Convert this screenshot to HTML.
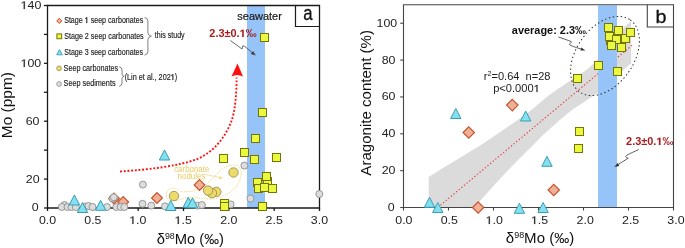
<!DOCTYPE html>
<html><head><meta charset="utf-8"><style>
html,body{margin:0;padding:0;background:#fff;}
body{width:685px;height:248px;overflow:hidden;}
svg{display:block;font-family:"Liberation Sans", sans-serif;will-change:transform;}
</style></head><body>
<svg width="685" height="248" viewBox="0 0 685 248">
<rect width="685" height="248" fill="#fff"/>
<rect x="247" y="6" width="18" height="202" fill="#97c4f8"/>
<path d="M166.6,196.3 C165.5,191 169,188 174,188 C178,188.5 179.5,191 181,191.7 C188,192 195,191 199,189 C203,187 207,184 211,180 C216,175 222,168 228,166 C234,164 239,165 241,170 C242.5,176 239,184 234,189 C229,194 220,198 213,199 C205,199.5 195,197 188,197.5 C183,198 178,201 173.5,201 C170,201 167,199 166.6,196.3 Z" fill="none" stroke="#ecd47c" stroke-width="0.9" stroke-dasharray="1.3,1.1"/>
<g stroke="#1a1a1a" stroke-width="1.3" fill="none">
<path d="M47.5,5.5 H319.5 V208.0 H47.5 Z"/>
<path d="M44.0,208.00 H47.5"/>
<path d="M44.0,179.07 H47.5"/>
<path d="M44.0,150.14 H47.5"/>
<path d="M44.0,121.21 H47.5"/>
<path d="M44.0,92.29 H47.5"/>
<path d="M44.0,63.36 H47.5"/>
<path d="M44.0,34.43 H47.5"/>
<path d="M44.0,5.50 H47.5"/>
<path d="M47.50,208.0 V211.0"/>
<path d="M92.83,208.0 V211.0"/>
<path d="M138.17,208.0 V211.0"/>
<path d="M183.50,208.0 V211.0"/>
<path d="M228.83,208.0 V211.0"/>
<path d="M274.17,208.0 V211.0"/>
<path d="M319.50,208.0 V211.0"/>
</g>
<path d="M114.00,193.10 L119.40,198.50 L114.00,203.90 L108.60,198.50 Z" fill="#efb097" stroke="#c4532b" stroke-width="1.2"/>
<path d="M123.20,196.60 L128.60,202.00 L123.20,207.40 L117.80,202.00 Z" fill="#efb097" stroke="#c4532b" stroke-width="1.2"/>
<path d="M157.00,192.60 L162.40,198.00 L157.00,203.40 L151.60,198.00 Z" fill="#efb097" stroke="#c4532b" stroke-width="1.2"/>
<path d="M199.50,179.60 L204.90,185.00 L199.50,190.40 L194.10,185.00 Z" fill="#efb097" stroke="#c4532b" stroke-width="1.2"/>
<circle cx="64.40" cy="205.00" r="3.5" fill="#dcdddd" stroke="#8e8e8e" stroke-width="0.9"/>
<circle cx="61.80" cy="207.00" r="3.5" fill="#dcdddd" stroke="#8e8e8e" stroke-width="0.9"/>
<circle cx="67.50" cy="207.00" r="3.5" fill="#dcdddd" stroke="#8e8e8e" stroke-width="0.9"/>
<circle cx="71.40" cy="207.00" r="3.5" fill="#dcdddd" stroke="#8e8e8e" stroke-width="0.9"/>
<circle cx="75.80" cy="207.00" r="3.5" fill="#dcdddd" stroke="#8e8e8e" stroke-width="0.9"/>
<circle cx="85.00" cy="206.50" r="3.5" fill="#dcdddd" stroke="#8e8e8e" stroke-width="0.9"/>
<circle cx="88.50" cy="206.00" r="3.5" fill="#dcdddd" stroke="#8e8e8e" stroke-width="0.9"/>
<circle cx="92.50" cy="207.00" r="3.5" fill="#dcdddd" stroke="#8e8e8e" stroke-width="0.9"/>
<circle cx="107.00" cy="207.00" r="3.5" fill="#dcdddd" stroke="#8e8e8e" stroke-width="0.9"/>
<circle cx="112.50" cy="198.50" r="3.5" fill="#dcdddd" stroke="#8e8e8e" stroke-width="0.9"/>
<circle cx="113.80" cy="197.30" r="3.5" fill="#dcdddd" stroke="#8e8e8e" stroke-width="0.9"/>
<circle cx="116.30" cy="207.00" r="3.5" fill="#dcdddd" stroke="#8e8e8e" stroke-width="0.9"/>
<circle cx="120.60" cy="207.00" r="3.5" fill="#dcdddd" stroke="#8e8e8e" stroke-width="0.9"/>
<circle cx="124.40" cy="207.00" r="3.5" fill="#dcdddd" stroke="#8e8e8e" stroke-width="0.9"/>
<circle cx="142.50" cy="203.80" r="3.5" fill="#dcdddd" stroke="#8e8e8e" stroke-width="0.9"/>
<circle cx="151.30" cy="205.60" r="3.5" fill="#dcdddd" stroke="#8e8e8e" stroke-width="0.9"/>
<circle cx="142.90" cy="184.60" r="3.5" fill="#dcdddd" stroke="#8e8e8e" stroke-width="0.9"/>
<circle cx="165.00" cy="206.30" r="3.5" fill="#dcdddd" stroke="#8e8e8e" stroke-width="0.9"/>
<circle cx="197.50" cy="205.60" r="3.5" fill="#dcdddd" stroke="#8e8e8e" stroke-width="0.9"/>
<circle cx="201.90" cy="205.00" r="3.5" fill="#dcdddd" stroke="#8e8e8e" stroke-width="0.9"/>
<circle cx="230.60" cy="204.40" r="3.5" fill="#dcdddd" stroke="#8e8e8e" stroke-width="0.9"/>
<circle cx="244.40" cy="165.60" r="3.5" fill="#dcdddd" stroke="#8e8e8e" stroke-width="0.9"/>
<circle cx="250.50" cy="198.50" r="3.5" fill="#dcdddd" stroke="#8e8e8e" stroke-width="0.9"/>
<circle cx="319.30" cy="194.00" r="3.5" fill="#dcdddd" stroke="#8e8e8e" stroke-width="0.9"/>
<circle cx="174.00" cy="196.00" r="4.7" fill="#ebdb6a" stroke="#9e8f55" stroke-width="0.9"/>
<circle cx="216.30" cy="191.90" r="4.7" fill="#ebdb6a" stroke="#9e8f55" stroke-width="0.9"/>
<circle cx="211.90" cy="193.10" r="4.7" fill="#ebdb6a" stroke="#9e8f55" stroke-width="0.9"/>
<circle cx="208.10" cy="190.60" r="4.7" fill="#ebdb6a" stroke="#9e8f55" stroke-width="0.9"/>
<circle cx="233.50" cy="172.50" r="4.7" fill="#ebdb6a" stroke="#9e8f55" stroke-width="0.9"/>
<path d="M74.40,195.00 L79.60,205.00 L69.20,205.00 Z" fill="#84dfee" stroke="#3a9fb6" stroke-width="1.0"/>
<path d="M82.50,202.50 L87.70,212.50 L77.30,212.50 Z" fill="#84dfee" stroke="#3a9fb6" stroke-width="1.0"/>
<path d="M100.60,200.30 L105.80,210.30 L95.40,210.30 Z" fill="#84dfee" stroke="#3a9fb6" stroke-width="1.0"/>
<path d="M164.50,150.00 L169.70,160.00 L159.30,160.00 Z" fill="#84dfee" stroke="#3a9fb6" stroke-width="1.0"/>
<path d="M170.80,200.50 L176.00,210.50 L165.60,210.50 Z" fill="#84dfee" stroke="#3a9fb6" stroke-width="1.0"/>
<path d="M188.30,197.30 L193.50,207.30 L183.10,207.30 Z" fill="#84dfee" stroke="#3a9fb6" stroke-width="1.0"/>
<path d="M192.50,197.80 L197.70,207.80 L187.30,207.80 Z" fill="#84dfee" stroke="#3a9fb6" stroke-width="1.0"/>
<rect x="260.5" y="33.5" width="8.00" height="8.00" fill="#ebf93e" stroke="#747408" stroke-width="1.0"/>
<rect x="258.5" y="108.5" width="8.00" height="8.00" fill="#ebf93e" stroke="#747408" stroke-width="1.0"/>
<rect x="251.5" y="134.5" width="8.00" height="8.00" fill="#ebf93e" stroke="#747408" stroke-width="1.0"/>
<rect x="240.5" y="148.5" width="8.00" height="8.00" fill="#ebf93e" stroke="#747408" stroke-width="1.0"/>
<rect x="219.5" y="154.5" width="8.00" height="8.00" fill="#ebf93e" stroke="#747408" stroke-width="1.0"/>
<rect x="250.5" y="155.5" width="8.00" height="8.00" fill="#ebf93e" stroke="#747408" stroke-width="1.0"/>
<rect x="272.5" y="153.5" width="8.00" height="8.00" fill="#ebf93e" stroke="#747408" stroke-width="1.0"/>
<rect x="253.5" y="178.5" width="8.00" height="8.00" fill="#ebf93e" stroke="#747408" stroke-width="1.0"/>
<rect x="263.5" y="177.5" width="8.00" height="8.00" fill="#ebf93e" stroke="#747408" stroke-width="1.0"/>
<rect x="262.5" y="172.5" width="8.00" height="8.00" fill="#ebf93e" stroke="#747408" stroke-width="1.0"/>
<rect x="254.5" y="184.5" width="8.00" height="8.00" fill="#ebf93e" stroke="#747408" stroke-width="1.0"/>
<rect x="260.5" y="183.5" width="8.00" height="8.00" fill="#ebf93e" stroke="#747408" stroke-width="1.0"/>
<rect x="268.5" y="184.5" width="8.00" height="8.00" fill="#ebf93e" stroke="#747408" stroke-width="1.0"/>
<rect x="258.5" y="202.5" width="8.00" height="8.00" fill="#ebf93e" stroke="#747408" stroke-width="1.0"/>
<rect x="220.5" y="199.5" width="8.00" height="8.00" fill="#ebf93e" stroke="#747408" stroke-width="1.0"/>
<rect x="220.5" y="202.5" width="8.00" height="8.00" fill="#ebf93e" stroke="#747408" stroke-width="1.0"/>
<path d="M120,171.5 C150,169.5 178,166 196,159.5 C214,152.5 226,136 231.5,121 C235,111 236.6,95 236.6,77.5" fill="none" stroke="#ff1010" stroke-width="1.9" stroke-dasharray="1.9,1.8"/>
<path d="M237.5,63.5 L243,76.5 Q237,73.5 231.5,76.5 Z" fill="#ff1010"/>
<text x="174.16" y="171.9" font-size="8.2" fill="#e9cb5e" textLength="35.16" lengthAdjust="spacingAndGlyphs" xml:space="preserve">carbonate</text>
<text x="177.59" y="178.75" font-size="8.2" fill="#e9cb5e" textLength="27.83" lengthAdjust="spacingAndGlyphs" xml:space="preserve">nodules</text>
<path d="M205.6,174.5 L220,177.5" stroke="#efd989" stroke-width="0.8" fill="none"/>
<path d="M223,178.2 L219.2,179.4 L219.9,175.9 Z" fill="#efd989"/>
<path d="M230.4,40.5 L242,49 L242.8,45.9 L244.6,46.3 L252.5,52.9" fill="none" stroke="#444" stroke-width="0.8"/>
<path d="M255.8,55.6 L250.6,53.9 L253.2,50.9 Z" fill="#444"/>
<path d="M295.5,5.5 V26.5 H319.5" stroke="#1a1a1a" stroke-width="1.2" fill="none"/>
<text x="303.25" y="20.26" font-size="20" fill="#111" stroke="#111" stroke-width="0.3" textLength="9.33" lengthAdjust="spacingAndGlyphs" xml:space="preserve">a</text>
<text x="237.32" y="20.2" font-size="11.5" fill="#1a1a1a" stroke="#1a1a1a" stroke-width="0.2" textLength="44.52" lengthAdjust="spacingAndGlyphs" xml:space="preserve">seawater</text>
<path d="M478 0V1170L140 959V1180L493 1409H759V0Z" fill="#a61d1d" stroke="#a61d1d" stroke-width="0.20" vector-effect="non-scaling-stroke" transform="translate(239.642,37) scale(0.005330,-0.005127)"/>
<text x="209.37" y="36.9" font-size="10.5" font-weight="bold" fill="#a61d1d" textLength="47.26" lengthAdjust="spacingAndGlyphs" xml:space="preserve">2.3±0.&#x2007;‰</text>
<path d="M515 0V1237L197 1010V1180L530 1409H696V0Z" fill="#222" stroke="#222" stroke-width="0.20" vector-effect="non-scaling-stroke" transform="translate(20.610,9) scale(0.006052,-0.005371)"/>
<text x="20.61" y="8.79" font-size="11" fill="#222" textLength="20.68" lengthAdjust="spacingAndGlyphs" xml:space="preserve">&#x2007;40</text>
<path d="M515 0V1237L197 1010V1180L530 1409H696V0Z" fill="#222" stroke="#222" stroke-width="0.20" vector-effect="non-scaling-stroke" transform="translate(20.600,67) scale(0.006052,-0.005371)"/>
<text x="20.6" y="66.93" font-size="11" fill="#222" textLength="20.68" lengthAdjust="spacingAndGlyphs" xml:space="preserve">&#x2007;00</text>
<text x="25.65" y="124.95" font-size="11" fill="#222" textLength="13.8" lengthAdjust="spacingAndGlyphs" xml:space="preserve">60</text>
<text x="25.76" y="182.8" font-size="11" fill="#222" textLength="13.8" lengthAdjust="spacingAndGlyphs" xml:space="preserve">20</text>
<text x="31.73" y="211.16" font-size="11" fill="#222" textLength="6.9" lengthAdjust="spacingAndGlyphs" xml:space="preserve">0</text>
<text x="38.93" y="224.4" font-size="11" fill="#222" textLength="17.23" lengthAdjust="spacingAndGlyphs" xml:space="preserve">0.0</text>
<text x="84.28" y="224.39" font-size="11" fill="#222" textLength="17.23" lengthAdjust="spacingAndGlyphs" xml:space="preserve">0.5</text>
<path d="M515 0V1237L197 1010V1180L530 1409H696V0Z" fill="#222" stroke="#222" stroke-width="0.20" vector-effect="non-scaling-stroke" transform="translate(129.240,224) scale(0.006052,-0.005371)"/>
<text x="129.24" y="224.32" font-size="11" fill="#222" textLength="17.23" lengthAdjust="spacingAndGlyphs" xml:space="preserve">&#x2007;.0</text>
<path d="M515 0V1237L197 1010V1180L530 1409H696V0Z" fill="#222" stroke="#222" stroke-width="0.20" vector-effect="non-scaling-stroke" transform="translate(174.590,224) scale(0.006052,-0.005371)"/>
<text x="174.59" y="224.32" font-size="11" fill="#222" textLength="17.23" lengthAdjust="spacingAndGlyphs" xml:space="preserve">&#x2007;.5</text>
<text x="220.22" y="224.35" font-size="11" fill="#222" textLength="17.23" lengthAdjust="spacingAndGlyphs" xml:space="preserve">2.0</text>
<text x="265.57" y="224.35" font-size="11" fill="#222" textLength="17.23" lengthAdjust="spacingAndGlyphs" xml:space="preserve">2.5</text>
<text x="310.85" y="224.32" font-size="11" fill="#222" textLength="17.23" lengthAdjust="spacingAndGlyphs" xml:space="preserve">3.0</text>
<text x="156.74" y="243.75" font-size="14.5" fill="#111" textLength="67.28" lengthAdjust="spacingAndGlyphs" xml:space="preserve">δ<tspan font-size="8.6" dy="-4.9">98</tspan><tspan dy="4.9">Mo (‰)</tspan></text>
<text x="-1.29" y="0" font-size="15" fill="#111" textLength="66.22" lengthAdjust="spacingAndGlyphs" xml:space="preserve" transform="translate(12.1,136.95) rotate(-90)">Mo (ppm)</text>
<path d="M59.30,18.30 L61.90,20.90 L59.30,23.50 L56.70,20.90 Z" fill="#efb097" stroke="#c4532b" stroke-width="1.0"/>
<path d="M515 0V1237L197 1010V1180L530 1409H696V0Z" fill="#1e1e1e" stroke="#1e1e1e" stroke-width="0.35" vector-effect="non-scaling-stroke" transform="translate(84.717,23) scale(0.003474,-0.004004)"/>
<text x="64.15" y="22.9" font-size="8.2" fill="#1e1e1e" stroke="#1e1e1e" stroke-width="0.15" textLength="79.1" lengthAdjust="spacingAndGlyphs" xml:space="preserve">Stage &#x2007; seep carbonates</text>
<rect x="56.90" y="33.90" width="4.80" height="4.80" fill="#ebf93e" stroke="#747408" stroke-width="1.0"/>
<text x="64.19" y="38.6" font-size="8.2" fill="#1e1e1e" stroke="#1e1e1e" stroke-width="0.15" textLength="79.52" lengthAdjust="spacingAndGlyphs" xml:space="preserve">Stage 2 seep carbonates</text>
<path d="M59.50,49.60 L62.30,54.80 L56.70,54.80 Z" fill="#84dfee" stroke="#3a9fb6" stroke-width="0.9"/>
<text x="64.19" y="54.6" font-size="8.2" fill="#1e1e1e" stroke="#1e1e1e" stroke-width="0.15" textLength="78.93" lengthAdjust="spacingAndGlyphs" xml:space="preserve">Stage 3 seep carbonates</text>
<circle cx="59.10" cy="68.40" r="2.4" fill="#ebdb6a" stroke="#9e8f55" stroke-width="0.8"/>
<text x="63.61" y="70.5" font-size="8.2" fill="#1e1e1e" stroke="#1e1e1e" stroke-width="0.15" textLength="54.56" lengthAdjust="spacingAndGlyphs" xml:space="preserve">Seep carbonates</text>
<circle cx="59.10" cy="84.00" r="2.4" fill="#dcdddd" stroke="#8e8e8e" stroke-width="0.8"/>
<text x="63.59" y="86.4" font-size="8.2" fill="#1e1e1e" stroke="#1e1e1e" stroke-width="0.15" textLength="51.95" lengthAdjust="spacingAndGlyphs" xml:space="preserve">Seep sediments</text>
<path d="M144.6,17.4 Q147.9,18 147.9,21 V33 Q147.9,35.4 151.3,36.2 Q147.9,37 147.9,39.5 V51.5 Q147.9,54.5 144.6,55.1" fill="none" stroke="#555" stroke-width="0.75"/>
<text x="154.81" y="38.0" font-size="8.2" fill="#1e1e1e" stroke="#1e1e1e" stroke-width="0.15" textLength="29.85" lengthAdjust="spacingAndGlyphs" xml:space="preserve">this study</text>
<path d="M119.2,66.8 Q122,67.3 122,70 V74 Q122,75.8 124.2,76.3 Q122,76.8 122,78.6 V83 Q122,85.8 119.2,86.3" fill="none" stroke="#555" stroke-width="0.75"/>
<path d="M515 0V1237L197 1010V1180L530 1409H696V0Z" fill="#1e1e1e" stroke="#1e1e1e" stroke-width="0.35" vector-effect="non-scaling-stroke" transform="translate(170.758,80) scale(0.003554,-0.004004)"/>
<text x="124.63" y="79.75" font-size="8.2" fill="#1e1e1e" stroke="#1e1e1e" stroke-width="0.15" textLength="52.6" lengthAdjust="spacingAndGlyphs" xml:space="preserve">(Lin et al., 202&#x2007;)</text>
<path d="M428.7,207.5 L428.7,177.0 C431.92,175.00 441.28,169.12 448,165 C454.72,160.88 462.00,156.63 469,152.3 C476.00,147.97 480.25,145.53 490,139 C499.75,132.47 517.50,120.50 527.5,113.1 C537.50,105.70 542.58,100.18 550,94.6 C557.42,89.02 565.17,84.37 572,79.6 C578.83,74.83 584.67,71.77 591,66 C597.33,60.23 604.50,51.42 610,45 C615.50,38.58 620.50,31.43 624,27.5 C627.50,23.57 629.83,22.42 631,21.4 L631.2,63 C629.77,64.32 628.13,65.97 622.6,70.9 C617.07,75.83 604.10,87.62 598,92.6 C591.90,97.58 591.17,97.25 586,100.8 C580.83,104.35 574.33,108.03 567,113.9 C559.67,119.77 547.17,131.27 542,136 C536.83,140.73 542.00,136.22 536,142.3 C530.00,148.38 515.33,162.72 506,172.5 C496.67,182.28 485.33,195.17 480,201 C474.67,206.83 475.00,206.42 474,207.5 Z" fill="#dbdbdb"/>
<path d="M440.5,205.2 L632,45.3" stroke="#e8343a" stroke-width="1.1" stroke-dasharray="1.3,2.1" fill="none"/>
<rect x="598" y="5.4" width="19" height="202" fill="#97c4f8"/>
<ellipse cx="605" cy="56" rx="44" ry="28.6" transform="rotate(-55 605 56)" fill="none" stroke="#333" stroke-width="1" stroke-dasharray="1.5,2.5"/>
<g stroke="#454545" stroke-width="1.1" fill="none">
<path d="M403.5,4.8 H673.5 V207.5 H403.5 Z"/>
<path d="M400.2,207.50 H403.5"/>
<path d="M400.2,170.65 H403.5"/>
<path d="M400.2,133.79 H403.5"/>
<path d="M400.2,96.94 H403.5"/>
<path d="M400.2,60.08 H403.5"/>
<path d="M400.2,23.23 H403.5"/>
<path d="M403.50,207.5 V210.5"/>
<path d="M448.50,207.5 V210.5"/>
<path d="M493.50,207.5 V210.5"/>
<path d="M538.50,207.5 V210.5"/>
<path d="M583.50,207.5 V210.5"/>
<path d="M628.50,207.5 V210.5"/>
<path d="M673.50,207.5 V210.5"/>
</g>
<path d="M468.75,126.80 L474.45,132.50 L468.75,138.20 L463.05,132.50 Z" fill="#efb097" stroke="#c4532b" stroke-width="1.2"/>
<path d="M512.30,99.40 L518.00,105.10 L512.30,110.80 L506.60,105.10 Z" fill="#efb097" stroke="#c4532b" stroke-width="1.2"/>
<path d="M478.10,201.80 L483.80,207.50 L478.10,213.20 L472.40,207.50 Z" fill="#efb097" stroke="#c4532b" stroke-width="1.2"/>
<path d="M553.75,184.30 L559.45,190.00 L553.75,195.70 L548.05,190.00 Z" fill="#efb097" stroke="#c4532b" stroke-width="1.2"/>
<path d="M429.50,197.30 L434.70,207.30 L424.30,207.30 Z" fill="#84dfee" stroke="#3a9fb6" stroke-width="1.0"/>
<path d="M437.80,202.50 L443.00,212.50 L432.60,212.50 Z" fill="#84dfee" stroke="#3a9fb6" stroke-width="1.0"/>
<path d="M455.80,108.50 L461.00,118.50 L450.60,118.50 Z" fill="#84dfee" stroke="#3a9fb6" stroke-width="1.0"/>
<path d="M525.70,111.00 L530.90,121.00 L520.50,121.00 Z" fill="#84dfee" stroke="#3a9fb6" stroke-width="1.0"/>
<path d="M547.00,156.30 L552.20,166.30 L541.80,166.30 Z" fill="#84dfee" stroke="#3a9fb6" stroke-width="1.0"/>
<path d="M519.40,203.30 L524.60,213.30 L514.20,213.30 Z" fill="#84dfee" stroke="#3a9fb6" stroke-width="1.0"/>
<path d="M543.10,202.50 L548.30,212.50 L537.90,212.50 Z" fill="#84dfee" stroke="#3a9fb6" stroke-width="1.0"/>
<rect x="573.5" y="74.5" width="8.00" height="8.00" fill="#ebf93e" stroke="#747408" stroke-width="1.0"/>
<rect x="594.5" y="61.5" width="8.00" height="8.00" fill="#ebf93e" stroke="#747408" stroke-width="1.0"/>
<rect x="613.5" y="67.5" width="8.00" height="8.00" fill="#ebf93e" stroke="#747408" stroke-width="1.0"/>
<rect x="575.5" y="127.5" width="8.00" height="8.00" fill="#ebf93e" stroke="#747408" stroke-width="1.0"/>
<rect x="574.5" y="144.5" width="8.00" height="8.00" fill="#ebf93e" stroke="#747408" stroke-width="1.0"/>
<rect x="606.5" y="36.5" width="8.00" height="8.00" fill="#ebf93e" stroke="#747408" stroke-width="1.0"/>
<rect x="605.5" y="32.5" width="8.00" height="8.00" fill="#ebf93e" stroke="#747408" stroke-width="1.0"/>
<rect x="604.5" y="23.5" width="8.00" height="8.00" fill="#ebf93e" stroke="#747408" stroke-width="1.0"/>
<rect x="614.5" y="26.5" width="8.00" height="8.00" fill="#ebf93e" stroke="#747408" stroke-width="1.0"/>
<rect x="621.5" y="34.5" width="8.00" height="8.00" fill="#ebf93e" stroke="#747408" stroke-width="1.0"/>
<rect x="626.5" y="28.5" width="8.00" height="8.00" fill="#ebf93e" stroke="#747408" stroke-width="1.0"/>
<rect x="612.5" y="35.5" width="8.00" height="8.00" fill="#ebf93e" stroke="#747408" stroke-width="1.0"/>
<rect x="607.5" y="41.5" width="8.00" height="8.00" fill="#ebf93e" stroke="#747408" stroke-width="1.0"/>
<rect x="617.5" y="43.5" width="8.00" height="8.00" fill="#ebf93e" stroke="#747408" stroke-width="1.0"/>
<text x="511.83" y="33.5" font-size="10.6" font-weight="bold" fill="#111" textLength="74.2" lengthAdjust="spacingAndGlyphs" xml:space="preserve">average: 2.3‰</text>
<path d="M558.4,37 C563,38.6 567.5,40 571.2,41.6 C572.6,42.4 568.6,43.6 569.6,44.8 C571,45.8 574,46.8 581.5,49.2" fill="none" stroke="#333" stroke-width="0.8"/>
<path d="M585.4,50.4 L581.4,47.5 L580.5,50.6 Z" fill="#333"/>
<text x="483.75" y="80.25" font-size="10" fill="#222" textLength="66.73" lengthAdjust="spacingAndGlyphs" xml:space="preserve">r<tspan font-size="6.5" dy="-4">2</tspan><tspan dy="4">=0.64  n=28</tspan></text>
<path d="M515 0V1237L197 1010V1180L530 1409H696V0Z" fill="#222" stroke="#222" stroke-width="0.20" vector-effect="non-scaling-stroke" transform="translate(533.694,92) scale(0.005431,-0.004883)"/>
<text x="493.18" y="92.4" font-size="10" fill="#222" textLength="46.7" lengthAdjust="spacingAndGlyphs" xml:space="preserve">p&lt;0.000&#x2007;</text>
<path d="M478 0V1170L140 959V1180L493 1409H759V0Z" fill="#a61d1d" stroke="#a61d1d" stroke-width="0.20" vector-effect="non-scaling-stroke" transform="translate(656.392,145) scale(0.005330,-0.005127)"/>
<text x="626.12" y="145.0" font-size="10.5" font-weight="bold" fill="#a61d1d" textLength="47.26" lengthAdjust="spacingAndGlyphs" xml:space="preserve">2.3±0.&#x2007;‰</text>
<path d="M638.8,149.5 C634,151.8 630,153.4 627.2,155 C624.6,156.6 626.2,157.6 628.2,158.1 C625.5,160 621.5,162.4 617.8,164.6" fill="none" stroke="#333" stroke-width="0.8"/>
<path d="M614.5,166.9 L617.4,162.9 L619.4,166 Z" fill="#333"/>
<path d="M647.3,4.8 V27 H673.5" stroke="#454545" stroke-width="1.1" fill="none"/>
<text x="655.43" y="23.12" font-size="19" fill="#111" stroke="#111" stroke-width="0.3" textLength="11.02" lengthAdjust="spacingAndGlyphs" xml:space="preserve">b</text>
<text x="376.5" y="26.53" font-size="11" fill="#222" textLength="20.68" lengthAdjust="spacingAndGlyphs" xml:space="preserve">100</text>
<text x="381.66" y="63.77" font-size="11" fill="#222" textLength="13.8" lengthAdjust="spacingAndGlyphs" xml:space="preserve">80</text>
<text x="381.65" y="100.4" font-size="11" fill="#222" textLength="13.8" lengthAdjust="spacingAndGlyphs" xml:space="preserve">60</text>
<text x="381.66" y="137.47" font-size="11" fill="#222" textLength="13.8" lengthAdjust="spacingAndGlyphs" xml:space="preserve">40</text>
<text x="381.66" y="174.14" font-size="11" fill="#222" textLength="13.8" lengthAdjust="spacingAndGlyphs" xml:space="preserve">20</text>
<text x="387.88" y="211.26" font-size="11" fill="#222" textLength="6.9" lengthAdjust="spacingAndGlyphs" xml:space="preserve">0</text>
<text x="395.28" y="224.1" font-size="11" fill="#222" textLength="17.23" lengthAdjust="spacingAndGlyphs" xml:space="preserve">0.0</text>
<text x="440.65" y="224.09" font-size="11" fill="#222" textLength="17.23" lengthAdjust="spacingAndGlyphs" xml:space="preserve">0.5</text>
<path d="M515 0V1237L197 1010V1180L530 1409H696V0Z" fill="#222" stroke="#222" stroke-width="0.20" vector-effect="non-scaling-stroke" transform="translate(485.630,224) scale(0.006052,-0.005371)"/>
<text x="485.63" y="224.02" font-size="11" fill="#222" textLength="17.23" lengthAdjust="spacingAndGlyphs" xml:space="preserve">&#x2007;.0</text>
<path d="M515 0V1237L197 1010V1180L530 1409H696V0Z" fill="#222" stroke="#222" stroke-width="0.20" vector-effect="non-scaling-stroke" transform="translate(530.990,224) scale(0.006052,-0.005371)"/>
<text x="530.99" y="224.02" font-size="11" fill="#222" textLength="17.23" lengthAdjust="spacingAndGlyphs" xml:space="preserve">&#x2007;.5</text>
<text x="576.64" y="224.05" font-size="11" fill="#222" textLength="17.23" lengthAdjust="spacingAndGlyphs" xml:space="preserve">2.0</text>
<text x="622.0" y="224.05" font-size="11" fill="#222" textLength="17.23" lengthAdjust="spacingAndGlyphs" xml:space="preserve">2.5</text>
<text x="667.3" y="224.02" font-size="11" fill="#222" textLength="17.23" lengthAdjust="spacingAndGlyphs" xml:space="preserve">3.0</text>
<text x="505.83" y="243.1" font-size="14.5" fill="#111" textLength="68.38" lengthAdjust="spacingAndGlyphs" xml:space="preserve">δ<tspan font-size="8.6" dy="-4.9">98</tspan><tspan dy="4.9">Mo (‰)</tspan></text>
<text x="-0.27" y="0" font-size="15" fill="#111" textLength="145.63" lengthAdjust="spacingAndGlyphs" xml:space="preserve" transform="translate(370.95,175.4) rotate(-90)">Aragonite content (%)</text>
</svg>
</body></html>
